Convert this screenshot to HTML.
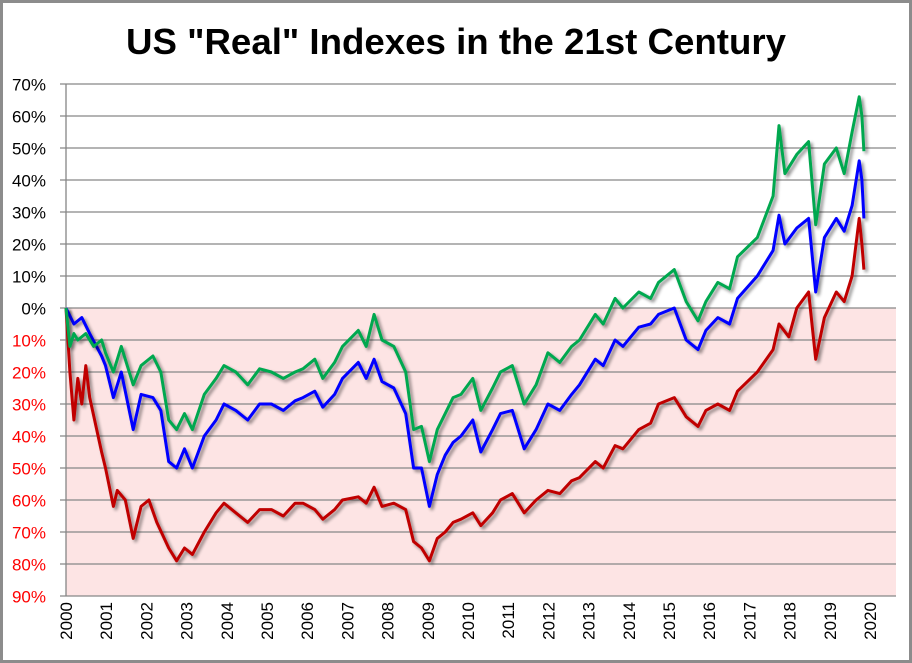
<!DOCTYPE html>
<html><head><meta charset="utf-8">
<style>
html,body{margin:0;padding:0;background:#fff;}
svg{display:block;font-family:"Liberation Sans",sans-serif;}
</style></head>
<body>
<svg id="chart" width="912" height="663">
<defs>
<filter id="sh" x="-5%" y="-5%" width="110%" height="110%">
<feGaussianBlur in="SourceAlpha" stdDeviation="1.5"/>
<feOffset dx="2.5" dy="2.5" result="o"/>
<feComponentTransfer><feFuncA type="linear" slope="0.45"/></feComponentTransfer>
<feMerge><feMergeNode/><feMergeNode in="SourceGraphic"/></feMerge>
</filter>
</defs>
<rect x="1.5" y="1.5" width="909" height="660" fill="#fff" stroke="#8c8c8c" stroke-width="3"/>
<text x="456" y="54" text-anchor="middle" font-size="36" font-weight="bold" fill="#000" textLength="660" lengthAdjust="spacingAndGlyphs">US "Real" Indexes in the 21st Century</text>
<g id="plot"></g>
</svg>
<script>
const yTicks=[70,60,50,40,30,20,10,0,-10,-20,-30,-40,-50,-60,-70,-80,-90];
const yearLabels=["2000","2001","2002","2003","2004","2005","2006","2007","2008","2009","2010","2011","2012","2013","2014","2015","2016","2017","2018","2019","2020"];
const greenDates=[2000.0,2000.1,2000.2,2000.3,2000.5,2000.7,2000.9,2001.0,2001.2,2001.4,2001.7,2001.9,2002.2,2002.4,2002.6,2002.8,2003.0,2003.2,2003.5,2003.8,2004.0,2004.3,2004.6,2004.9,2005.2,2005.5,2005.8,2006.0,2006.3,2006.5,2006.8,2007.0,2007.4,2007.6,2007.8,2008.0,2008.3,2008.6,2008.8,2009.0,2009.2,2009.4,2009.6,2009.8,2010.0,2010.3,2010.5,2010.8,2011.0,2011.3,2011.6,2011.9,2012.2,2012.5,2012.8,2013.0,2013.4,2013.6,2013.9,2014.1,2014.5,2014.8,2015.0,2015.4,2015.7,2016.0,2016.2,2016.5,2016.8,2017.0,2017.5,2017.9,2018.05,2018.2,2018.5,2018.8,2018.98,2019.2,2019.5,2019.7,2019.9,2020.08,2020.15,2020.2];
const greenValues=[0,-12,-8,-10,-8,-12,-10,-14,-20,-12,-24,-18,-15,-20,-35,-38,-33,-38,-27,-22,-18,-20,-24,-19,-20,-22,-20,-19,-16,-22,-17,-12,-7,-12,-2,-10,-12,-20,-38,-37,-48,-38,-33,-28,-27,-22,-32,-25,-20,-18,-30,-24,-14,-17,-12,-10,-2,-5,3,0,5,3,8,12,2,-4,2,8,6,16,22,35,57,42,48,52,26,45,50,42,55,66,60,49];
const blueDates=[2000.0,2000.2,2000.4,2000.6,2000.9,2001.0,2001.2,2001.4,2001.7,2001.9,2002.2,2002.4,2002.6,2002.8,2003.0,2003.2,2003.5,2003.8,2004.0,2004.3,2004.6,2004.9,2005.2,2005.5,2005.8,2006.0,2006.3,2006.5,2006.8,2007.0,2007.4,2007.6,2007.8,2008.0,2008.3,2008.6,2008.8,2009.0,2009.2,2009.4,2009.6,2009.8,2010.0,2010.3,2010.5,2010.8,2011.0,2011.3,2011.6,2011.9,2012.2,2012.5,2012.8,2013.0,2013.4,2013.6,2013.9,2014.1,2014.5,2014.8,2015.0,2015.4,2015.7,2016.0,2016.2,2016.5,2016.8,2017.0,2017.5,2017.9,2018.05,2018.2,2018.5,2018.8,2018.98,2019.2,2019.5,2019.7,2019.9,2020.08,2020.15,2020.2];
const blueValues=[0,-5,-3,-8,-15,-18,-28,-20,-38,-27,-28,-32,-48,-50,-44,-50,-40,-35,-30,-32,-35,-30,-30,-32,-29,-28,-26,-31,-27,-22,-17,-22,-16,-23,-25,-33,-50,-50,-62,-52,-46,-42,-40,-35,-45,-38,-33,-32,-44,-38,-30,-32,-27,-24,-16,-18,-10,-12,-6,-5,-2,0,-10,-13,-7,-3,-5,3,10,18,29,20,25,28,5,22,28,24,32,46,40,28];
const redDates=[2000.0,2000.1,2000.2,2000.3,2000.4,2000.5,2000.6,2000.9,2001.0,2001.2,2001.3,2001.5,2001.7,2001.9,2002.1,2002.3,2002.6,2002.8,2003.0,2003.2,2003.5,2003.8,2004.0,2004.3,2004.6,2004.9,2005.2,2005.5,2005.8,2006.0,2006.3,2006.5,2006.8,2007.0,2007.4,2007.6,2007.8,2008.0,2008.3,2008.6,2008.8,2009.0,2009.2,2009.4,2009.6,2009.8,2010.0,2010.3,2010.5,2010.8,2011.0,2011.3,2011.6,2011.9,2012.2,2012.5,2012.8,2013.0,2013.4,2013.6,2013.9,2014.1,2014.5,2014.8,2015.0,2015.4,2015.7,2016.0,2016.2,2016.5,2016.8,2017.0,2017.5,2017.9,2018.05,2018.3,2018.5,2018.8,2018.98,2019.2,2019.5,2019.7,2019.9,2020.08,2020.15,2020.2];
const redValues=[0,-20,-35,-22,-30,-18,-28,-45,-50,-62,-57,-60,-72,-62,-60,-67,-75,-79,-75,-77,-70,-64,-61,-64,-67,-63,-63,-65,-61,-61,-63,-66,-63,-60,-59,-61,-56,-62,-61,-63,-73,-75,-79,-72,-70,-67,-66,-64,-68,-64,-60,-58,-64,-60,-57,-58,-54,-53,-48,-50,-43,-44,-38,-36,-30,-28,-34,-37,-32,-30,-32,-26,-20,-13,-5,-9,0,5,-16,-3,5,2,10,28,20,12];

const NS="http://www.w3.org/2000/svg";
const L=66,R=896,T=84,B=596;
function yS(v){return T+(70-v)/160*(B-T);}
function xS(d){return L+(d-2000)*39.5;}
function xLab(i){return L+i*40.2;}
const g=document.getElementById('plot');
function mk(tag,attrs){const e=document.createElementNS(NS,tag);for(const k in attrs)e.setAttribute(k,attrs[k]);g.appendChild(e);return e;}

const bg=mk('rect',{x:L,y:yS(0),width:R-L,height:B-yS(0),fill:'#fde4e4'});



yTicks.forEach(v=>{
  const y=yS(v);
  const ln=mk('line',{x1:L-6,x2:R,y1:y,y2:y,stroke:'#868686','stroke-width':1.3});
  
  
  const t=mk('text',{x:46,y:y+6.5,'text-anchor':'end','font-size':17,fill:v<0?'#ff0000':'#000'});
  t.textContent=Math.abs(v)+'%';
  
  
});
const ax=mk('line',{x1:L,x2:L,y1:T,y2:B,stroke:'#868686','stroke-width':1.3});



yearLabels.forEach((lab,i)=>{
  const x=xLab(i);
  const t=mk('text',{x:0,y:0,'text-anchor':'end','font-size':17,fill:'#000',transform:`translate(${x+6},${B+6}) rotate(-90)`});
  t.textContent=lab;
  
  
});

function series(dates,vals,color,name){
  const d=dates.map((dt,i)=>(i?'L':'M')+xS(dt).toFixed(1)+' '+yS(vals[i]).toFixed(1)).join(' ');
  const p=mk('path',{d:d,fill:'none',stroke:color,'stroke-width':3,'stroke-linejoin':'round',filter:'url(#sh)'});
  
  
}
series(redDates,redValues,'#c00000','red-index-line');
series(blueDates,blueValues,'#0000ff','blue-index-line');
series(greenDates,greenValues,'#00a850','green-index-line');
</script>
</body></html>
